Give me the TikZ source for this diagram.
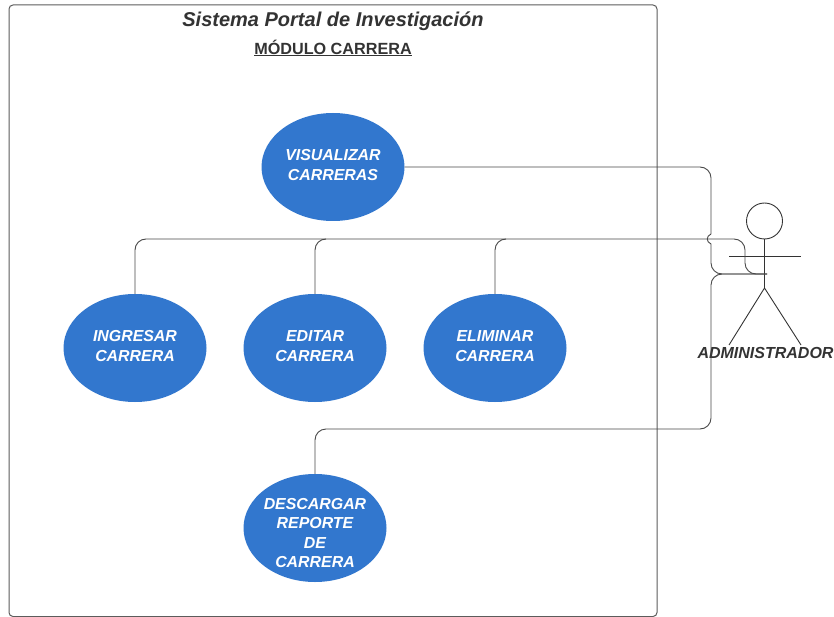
\documentclass[tikz,border=0pt]{standalone}
\usepackage{fontspec}
\setmainfont{Liberation Sans}
\usetikzlibrary{shapes.geometric}
\definecolor{ucblue}{HTML}{3277CE}
\definecolor{inkc}{HTML}{333333}
\tikzset{
  x=1pt,y=-1pt,
  usecase/.style={ellipse,fill=ucblue,minimum width=143pt,minimum height=108pt,inner sep=0pt},
  uctext/.style={inner sep=0pt,text=white,align=center,font=\fontsize{15.9}{19.3}\selectfont\bfseries\itshape},
  wire/.style={draw=inkc!90,line width=0.9pt,rounded corners=11pt},
  shape line/.style={draw=inkc,line width=0.9pt},
  lbl/.style={text=inkc,inner sep=0pt},
}
\begin{document}
\begin{tikzpicture}
\useasboundingbox (0,0) rectangle (834,617);
\draw[draw=inkc!80,line width=1pt,rounded corners=4pt,fill=white] (9,5) rectangle (657,616.5);
\node[lbl,font=\fontsize{20}{24}\selectfont\bfseries\itshape] (title) at (333,21) {Sistema Portal de Investigación};
\node[lbl,font=\fontsize{16.2}{19}\selectfont\bfseries] (module) at (333,48) {\underline{MÓDULO CARRERA}};
\node[usecase] (ver) at (333,167) {};
\node[usecase] (ing) at (135,348) {};
\node[usecase] (edi) at (315,348) {};
\node[usecase] (eli) at (495,348) {};
\node[usecase] (des) at (315,528) {};
\node[uctext,yshift=2pt] (verT) at (ver) {VISUALIZAR\\CARRERAS};
\node[uctext,yshift=2pt] (ingT) at (ing) {INGRESAR\\CARRERA};
\node[uctext,yshift=2pt] (ediT) at (edi) {EDITAR\\CARRERA};
\node[uctext,yshift=2pt] (eliT) at (eli) {ELIMINAR\\CARRERA};
\node[uctext,yshift=-5pt] (desT) at (des) {DESCARGAR\\REPORTE\\DE\\CARRERA};
% actor
\node[circle,draw=inkc,line width=0.9pt,minimum size=36pt,inner sep=0pt] (head) at (764.5,221) {};
\coordinate (hip) at (764.5,288);
\coordinate (armL) at (729,256);
\coordinate (armR) at (801,256);
\coordinate (footL) at (729,345);
\coordinate (footR) at (801,345);
\coordinate (hand) at (767,274);
\draw[shape line] (head.south) -- (hip);
\draw[shape line] (armL) -- (armR);
\draw[shape line] (footL) -- (hip) -- (footR);
\node[lbl,font=\fontsize{16}{19}\selectfont\bfseries\itshape] (actor) at (765.5,353) {ADMINISTRADOR};
% connectors
\draw[wire] (ver.east) -- (711,167) -- (711,234);
\draw[wire] (711,234) .. controls (706,236) and (706,242) .. (711,244);
\draw[wire] (711,244) -- (711,274) -- (hand);
\draw[wire] (ing.north) -- (135,239) -- (745,239) -- (745,274) -- (hand);
\draw[wire] (edi.north) -- (315,239) -- (326,239);
\draw[wire] (eli.north) -- (495,239) -- (506,239);
\draw[wire] (des.north) -- (315,429) -- (711,429) -- (711,274) -- (hand);
\end{tikzpicture}
\end{document}
